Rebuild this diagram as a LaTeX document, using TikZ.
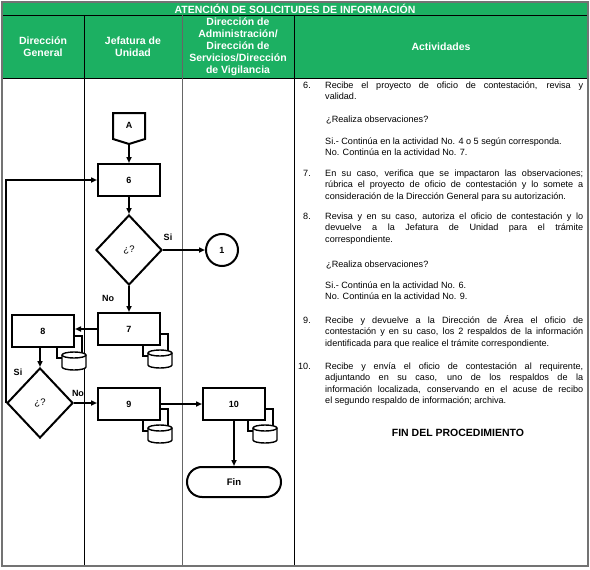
\documentclass[tikz,border=0pt]{standalone}
\usepackage{fontspec}
\setmainfont{Liberation Sans}
\usetikzlibrary{shapes.geometric,arrows.meta,calc}
\definecolor{hdrgreen}{RGB}{28,176,98}
\pgfdeclarelayer{tbl}
\pgfdeclarelayer{icons}
\pgfsetlayers{tbl,icons,main}
\newcommand\storicon[1]{%
  \draw[line width=1.4pt,fill=white] ($(#1)+(-18,-12)$) rectangle ($(#1)+(7,10)$);
  \draw[line width=1.4pt,fill=white] ($(#1)+(-13,7)$) -- ($(#1)+(-13,19)$)
     arc[start angle=180,end angle=360,x radius=12pt,y radius=3pt] -- ($(#1)+(11,7)$);
  \draw[line width=1.4pt,fill=white] ($(#1)+(-1,7)$) ellipse [x radius=12pt,y radius=3pt];
}
\begin{document}
\begin{tikzpicture}[x=1pt,y=-1pt,
  box/.style={draw,line width=2pt,fill=white,minimum width=62pt,minimum height=32pt,inner sep=0pt,font=\fontsize{9}{10}\selectfont\bfseries},
  dec/.style={diamond,draw,line width=2pt,fill=white,minimum width=66pt,minimum height=70pt,inner sep=0pt,font=\fontsize{9.5}{10}\selectfont},
  conn/.style={line width=1.8pt,-{Triangle[length=6pt,width=5pt]}},
  lbl/.style={font=\fontsize{9}{10}\selectfont\bfseries,inner sep=0pt},
  hdr/.style={text=white,font=\fontsize{10.5}{12}\selectfont\bfseries,align=center,inner sep=0pt},
  num/.style={anchor=north east,inner sep=0pt,font=\fontsize{9.1}{11.5}\selectfont},
  para/.style={anchor=north west,inner sep=0pt,text width=258pt,align=justify,font=\fontsize{9.1}{11.5}\selectfont},
  plain/.style={anchor=north west,inner sep=0pt,align=left,font=\fontsize{9.1}{11.5}\selectfont},
]
\useasboundingbox (0,0) rectangle (590,570);
\begin{pgfonlayer}{tbl}
\fill[white] (0,0) rectangle (590,570);
\fill[hdrgreen] (2,2) rectangle (588,78);
\draw[line width=1pt] (2,15) -- (588,15);
\draw[line width=1pt] (2,78) -- (588,78);
\draw[line width=1pt] (84,15) -- (84,566);
\draw[line width=1pt,black!60] (182,15) -- (182,566);
\draw[line width=1pt] (294,15) -- (294,566);
\draw[line width=1.2pt,black!55] (2,2) rectangle (588,566);
\end{pgfonlayer}

% headers
\node[hdr] (title) at (295,8.5) {ATENCIÓN DE SOLICITUDES DE INFORMACIÓN};
\node[hdr] (h1) at (43,46.5) {Dirección\\General};
\node[hdr] (h2) at (133,46.5) {Jefatura de\\Unidad};
\node[hdr] (h3) at (238,46.5) {Dirección de\\Administración/\\Dirección de\\Servicios/Dirección\\de Vigilancia};
\node[hdr] (h4) at (441,46.5) {Actividades};

% off-page connector A
\draw[line width=2pt,fill=white] (113,113) -- (145,113) -- (145,139) -- (129,144) -- (113,139) -- cycle;
\node[lbl] (A) at (129,125) {A};
\coordinate (Apt) at (129,144);

% boxes and decisions
\node[box] (b6) at (129,180) {6};
\node[dec] (d1) at (129,250) {¿?};
\node[draw,circle,line width=2pt,fill=white,minimum size=32pt,inner sep=0pt,font=\fontsize{9}{10}\selectfont\bfseries] (c1) at (222,250) {1};
\node[box] (b7) at (129,329) {7};
\node[box] (b8) at (43,331) {8};
\node[dec] (d2) at (40,403) {¿?};
\node[box] (b9) at (129,404) {9};
\node[box] (b10) at (234,404) {10};
\node[draw,line width=2pt,fill=white,rounded corners=15pt,minimum width=94pt,minimum height=30pt,font=\fontsize{9.5}{10}\selectfont\bfseries] (fin) at (234,482) {Fin};

\begin{pgfonlayer}{icons}
\storicon{b7.south east}
\storicon{b8.south east}
\storicon{b9.south east}
\storicon{b10.south east}
\end{pgfonlayer}

% connectors
\draw[conn] (Apt) -- (b6.north);
\draw[conn] (b6.south) -- (d1.north);
\draw[conn] (d1.east) -- (c1.west);
\draw[conn] (d1.south) -- (b7.north);
\draw[conn] (b7.west) -- (b7.west -| b8.east);
\draw[conn] (b8.south -| d2.north) -- (d2.north);
\draw[conn] (d2.west) -- (d2.west |- b6.west) -- (b6.west);
\draw[conn] (d2.east) -- (d2.east -| b9.west);
\draw[conn] (b9.east) -- (b9.east -| b10.west);
\draw[conn] (b10.south) -- (fin.north);

% labels
\node[lbl] (si1) at (168,237) {Si};
\node[lbl] (no1) at (108,298) {No};
\node[lbl] (si2) at (18,372) {Si};
\node[lbl] (no2) at (78,393) {No};

% activities text
\node[num] (n6) at (311,80) {\strut 6.};
\node[para] (t6) at (325,80) {\strut Recibe el proyecto de oficio de contestación, revisa y\linebreak validad.};
\node[plain] (q6) at (326,114) {\strut ¿Realiza observaciones?};
\node[plain] (r6) at (325,136) {\strut Si.- Continúa en la actividad No. 4 o 5 según corresponda.\\No. Continúa en la actividad No. 7.};
\node[num] (n7) at (311,168) {\strut 7.};
\node[para] (t7) at (325,168) {\strut En su caso, verifica que se impactaron las observaciones;\linebreak rúbrica el proyecto de oficio de contestación y lo somete a\linebreak consideración de la Dirección General para su autorización.};
\node[num] (n8) at (311,211) {\strut 8.};
\node[para] (t8) at (325,211) {\strut Revisa y en su caso, autoriza el oficio de contestación y lo\linebreak devuelve a la Jefatura de Unidad para el trámite\linebreak correspondiente.};
\node[plain] (q8) at (326,259) {\strut ¿Realiza observaciones?};
\node[plain] (r8) at (325,280) {\strut Si.- Continúa en la actividad No. 6.\\No. Continúa en la actividad No. 9.};
\node[num] (n9) at (311,315) {\strut 9.};
\node[para] (t9) at (325,315) {\strut Recibe y devuelve a la Dirección de Área el oficio de\linebreak contestación y en su caso, los 2 respaldos de la información\linebreak identificada para que realice el trámite correspondiente.};
\node[num] (n10) at (311,361) {\strut 10.};
\node[para] (t10) at (325,361) {\strut Recibe y envía el oficio de contestación al requirente,\linebreak adjuntando en su caso, uno de los respaldos de la\linebreak información localizada, conservando en el acuse de recibo\linebreak el segundo respaldo de información; archiva.};
\node[font=\fontsize{10.5}{12}\selectfont\bfseries,inner sep=0pt] (finp) at (458,433) {FIN DEL PROCEDIMIENTO};
\end{tikzpicture}
\end{document}
